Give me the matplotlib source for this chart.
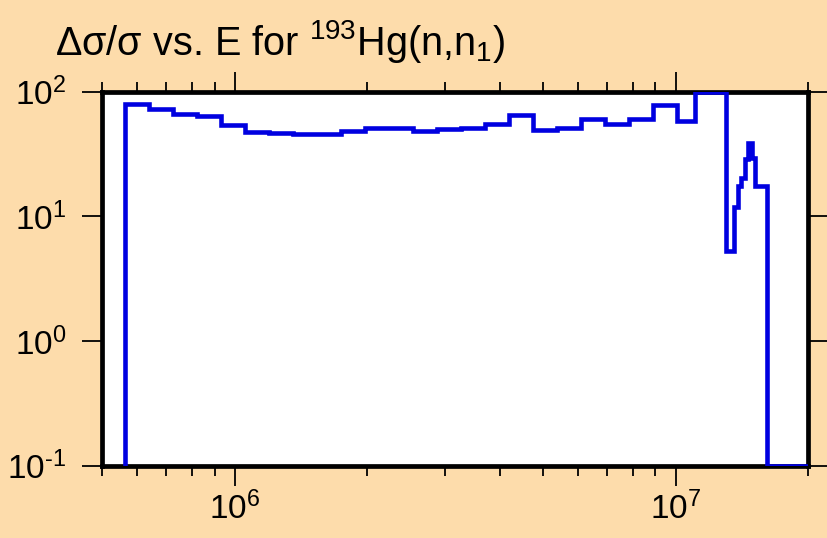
import numpy as np
import matplotlib
matplotlib.use("Agg")
import matplotlib.pyplot as plt
from matplotlib.ticker import LogLocator, FuncFormatter, NullFormatter, NullLocator

plt.rcParams['font.family'] = ['Liberation Sans', 'DejaVu Sans']
plt.rcParams['mathtext.fontset'] = 'custom'
plt.rcParams['mathtext.rm'] = 'Liberation Sans'
plt.rcParams['mathtext.it'] = 'Liberation Sans:italic'
plt.rcParams['mathtext.bf'] = 'Liberation Sans:bold'

# Bin edges (eV) and relative uncertainty values
edges = [5.625e5, 6.376e5, 7.23e5, 8.20e5, 9.29e5, 1.054e6, 1.195e6, 1.354e6,
         1.536e6, 1.741e6, 1.974e6, 2.238e6, 2.537e6, 2.876e6, 3.261e6, 3.697e6,
         4.192e6, 4.752e6, 5.388e6, 6.108e6, 6.925e6, 7.851e6, 8.900e6, 1.009e7,
         1.108e7, 1.304e7, 1.354e7, 1.383e7, 1.410e7, 1.440e7, 1.463e7, 1.494e7,
         1.517e7, 1.613e7, 2.0e7]
values = [79.2, 72.7, 66.6, 63.8, 54.1, 47.5, 46.6, 46.0, 46.0, 48.8,
          51.2, 51.2, 48.1, 50.0, 51.3, 54.6, 65.0, 49.6, 51.6, 60.8,
          55.3, 60.2, 78.5, 58.4, 100.0, 5.3, 11.9, 17.5, 20.3, 28.8,
          38.6, 29.4, 17.6, 0.1]

title_text = "\u0394\u03c3/\u03c3 vs. E for $^{\\mathregular{193}}$Hg(n,n$_{\\mathregular{1}}$)"

bg = '#fddcab'
fig = plt.figure(figsize=(8.27, 5.38), dpi=100, facecolor=bg)
ax = fig.add_axes([102/827, 1-465.7/538, (808.3-102)/827, (465.7-91.7)/538])
ax.set_facecolor('white')

ax.stairs(values, edges, baseline=0.1, color='#0000e0', linewidth=3.3, zorder=3)

ax.set_xscale('log')
ax.set_yscale('log')
ax.set_xlim(5e5, 2e7)
ax.set_ylim(0.1, 100)

for s in ax.spines.values():
    s.set_linewidth(3.4)
    s.set_color('black')

ax.xaxis.set_major_locator(LogLocator(base=10, numticks=20))
ax.xaxis.set_minor_locator(LogLocator(base=10, subs=np.arange(2, 10), numticks=40))
ax.yaxis.set_major_locator(LogLocator(base=10, numticks=20))
ax.yaxis.set_minor_locator(NullLocator())


def fmt_func(v, p):
    e = int(round(np.log10(v)))
    es = str(e).replace('-', '\u2010')
    return "$\\mathdefault{10^{%s}}$" % es


fmt = FuncFormatter(fmt_func)
ax.xaxis.set_major_formatter(fmt)
ax.yaxis.set_major_formatter(fmt)
ax.xaxis.set_minor_formatter(NullFormatter())

ax.tick_params(axis='x', which='major', direction='out', length=14.5, width=1.3,
               top=True, bottom=True, labelsize=24, pad=4, color='black')
ax.tick_params(axis='x', which='minor', direction='out', length=7.5, width=1.3,
               top=True, bottom=True, color='black')
ax.tick_params(axis='y', which='major', direction='out', length=14.5, width=1.3,
               left=True, right=True, labelsize=24, pad=11, color='black')

fig.text(55/827, 1-55/538, title_text, fontsize=28.5, ha='left', va='baseline')

fig.savefig('out.png', dpi=100, facecolor=bg)
